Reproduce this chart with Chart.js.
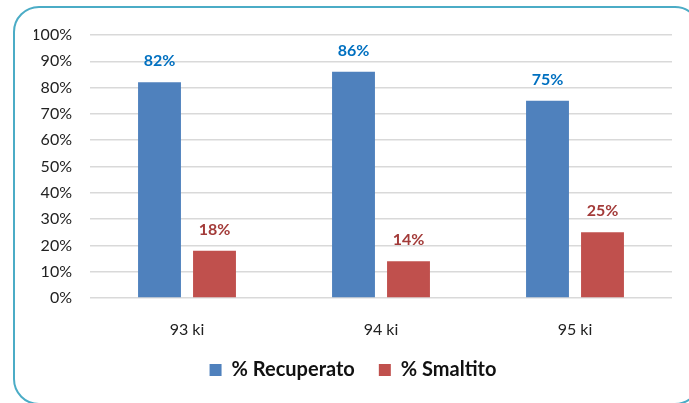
<!DOCTYPE html>
<html>
<head>
<meta charset="utf-8">
<script src="https://cdn.jsdelivr.net/npm/chart.js@4"></script>
<style>
  html, body { margin: 0; padding: 0; background: #fff; overflow: hidden; }
  #wrap { position: relative; width: 689px; height: 403px; overflow: hidden; }
  #frame {
    position: absolute; left: 13px; top: 6px; width: 688px; height: 399px;
    border: 2px solid #4BACC6; border-radius: 26px; box-sizing: border-box;
  }
  canvas { position: absolute; left: 0; top: 0; }
</style>
</head>
<body>
<div id="wrap">
  <div id="frame"></div>
  <canvas id="chart" width="689" height="403"></canvas>
</div>
<script>
const categories = ['93 ki', '94 ki', '95 ki'];
const recuperato = [82, 86, 75];
const smaltito = [18, 14, 25];
const yTicks = [0, 10, 20, 30, 40, 50, 60, 70, 80, 90, 100];

const FONT = 'Lato, "Open Sans", sans-serif';

// value labels above the bars
const barLabels = {
    id: 'barLabels',
    afterDatasetsDraw(chart) {
        const ctx = chart.ctx;
        const colors = ['#0070C0', '#A33B39'];
        ctx.save();
        ctx.font = 'bold 16px ' + FONT;
        ctx.textAlign = 'center';
        ctx.textBaseline = 'middle';
        chart.data.datasets.forEach((ds, i) => {
            const meta = chart.getDatasetMeta(i);
            ctx.fillStyle = colors[i];
            meta.data.forEach((bar, j) => {
                ctx.fillText(ds.data[j] + '%', bar.x, bar.y - 21);
            });
        });
        ctx.restore();
    }
};

new Chart(document.getElementById('chart'), {
    type: 'bar',
    data: {
        labels: categories,
        datasets: [
            {
                label: '% Recuperato',
                data: recuperato,
                backgroundColor: '#4F81BD',
                categoryPercentage: 0.567,
                barPercentage: 0.78
            },
            {
                label: '% Smaltito',
                data: smaltito,
                backgroundColor: '#C0504D',
                categoryPercentage: 0.567,
                barPercentage: 0.78
            }
        ]
    },
    options: {
        responsive: false,
        animation: false,
        layout: { padding: { left: 34, right: 17, top: 35, bottom: 13 } },
        scales: {
            x: {
                grid: { display: false },
                border: { display: false },
                ticks: { color: '#222', font: { family: FONT, size: 16 }, padding: 14 },
                afterFit(axis) { axis.height = 38; }
            },
            y: {
                min: 0,
                max: 100,
                afterBuildTicks(axis) { axis.ticks = yTicks.map(v => ({ value: v })); },
                grid: { color: '#D9D9D9', lineWidth: 1.5, drawTicks: false },
                border: { display: false },
                ticks: {
                    color: '#222',
                    font: { family: FONT, size: 16 },
                    padding: 18,
                    callback: v => v + '%'
                },
                afterFit(axis) { axis.width = 56; }
            }
        },
        plugins: {
            legend: {
                position: 'bottom',
                labels: {
                    color: '#111',
                    font: { family: FONT, size: 20, weight: 'bold' },
                    boxWidth: 12,
                    boxHeight: 12,
                    padding: 24
                }
            },
            tooltip: { enabled: false }
        }
    },
    plugins: [barLabels]
});
</script>
</body>
</html>
